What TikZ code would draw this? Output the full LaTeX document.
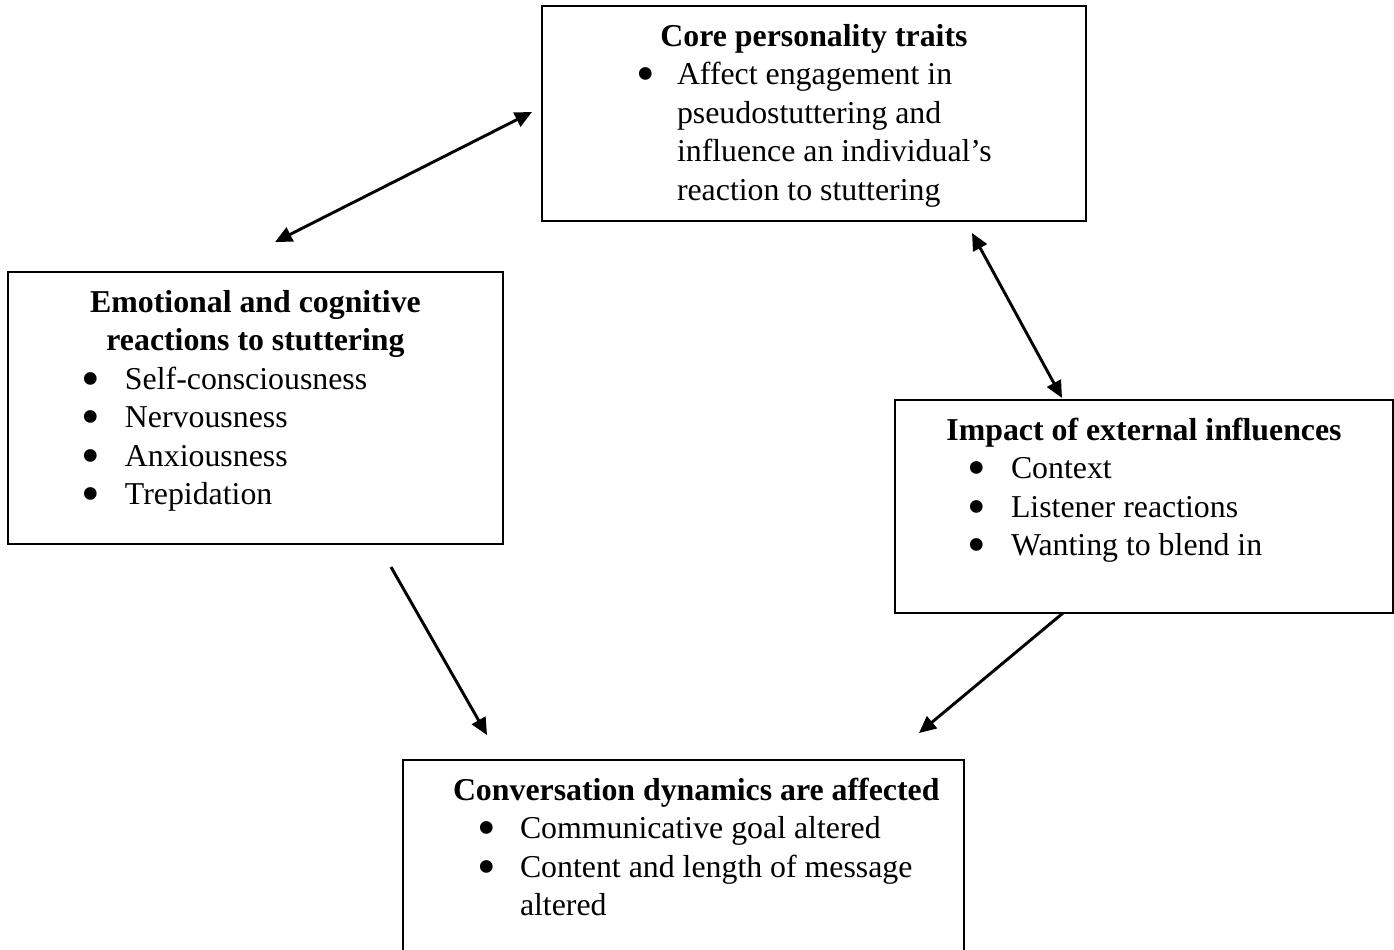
\documentclass[tikz,border=0pt]{standalone}
\usepackage{fontspec}
\setmainfont{Liberation Serif}
\usetikzlibrary{arrows.meta}
\newlength\px
\setlength\px{0.377pt}
\setlength\parskip{0pt}
% box content: width, height, text
\newcommand\panelbox[3]{\parbox[t][#2\px][t]{#1\px}{#3}}
\newcommand\ptitle[1]{\noindent\makebox[\linewidth]{\rule{0pt}{40\px}\bfseries #1}}
\newcommand\ptitlenext[1]{\par\noindent\makebox[\linewidth]{\bfseries #1}}
\newcommand\bigdot{{\fontsize{20}{14}\selectfont\raisebox{-2.6pt}{\textbullet}}}
% bullet line: bullet offset, text offset, text
\newcommand\bitem[3]{\par\noindent\hspace*{#1\px}\makebox[\dimexpr#2\px-#1\px\relax][l]{\bigdot}#3}
\newcommand\bcont[2]{\par\noindent\hspace*{#1\px}#2}
\begin{document}
\begin{tikzpicture}[x=0.377pt, y=-0.377pt,
    panel/.style={draw, line width=0.75pt, anchor=north west, inner sep=0pt,
      font=\fontsize{12}{14.55}\selectfont},
    link/.style={line width=1.1pt, -{Triangle[length=6.4pt,width=5.8pt]}},
    twoway/.style={line width=1.1pt, {Triangle[length=6.4pt,width=5.8pt]}-{Triangle[length=6.4pt,width=5.8pt]}},
    ]
    \useasboundingbox (0,0) rectangle (1394,949);
    \clip (0,0) rectangle (1394,949);

    % the four boxes
    \node[panel] (core) at (541,5) {\panelbox{544}{215}{%
        \ptitle{Core personality traits}
        \bitem{94}{135}{Affect engagement in}
        \bcont{135}{pseudostuttering and}
        \bcont{135}{influence an individual’s}
        \bcont{135}{reaction to stuttering}}};
    \node[panel] (emotion) at (7,271) {\panelbox{495}{272}{%
        \ptitle{Emotional and cognitive}
        \ptitlenext{reactions to stuttering}
        \bitem{74}{117}{Self-consciousness}
        \bitem{74}{117}{Nervousness}
        \bitem{74}{117}{Anxiousness}
        \bitem{74}{117}{Trepidation}}};
    \node[panel] (impact) at (894,399) {\panelbox{498}{213}{%
        \ptitle{Impact of external influences}
        \bitem{72}{116}{Context}
        \bitem{72}{116}{Listener reactions}
        \bitem{72}{116}{Wanting to blend in}}};
    \node[panel] (convo) at (402,759) {\panelbox{561}{205}{%
        \noindent\hspace*{50\px}\rule{0pt}{40\px}\textbf{Conversation dynamics are affected}
        \bitem{74}{117}{Communicative goal altered}
        \bitem{74}{117}{Content and length of message}
        \bcont{117}{altered}}};

    % free arrow ends
    \coordinate (core-w) at (532,112);
    \coordinate (emotion-n) at (275,242);
    \coordinate (core-s) at (972,233);
    \coordinate (impact-n) at (1062,398);
    \coordinate (emotion-s) at (391,567);
    \coordinate (convo-nw) at (487,735);
    \coordinate (impact-s) at (1063,613);
    \coordinate (convo-ne) at (919,733);

    \draw[twoway] (emotion-n) -- (core-w);
    \draw[twoway] (core-s) -- (impact-n);
    \draw[link] (emotion-s) -- (convo-nw);
    \draw[link] (impact-s) -- (convo-ne);
\end{tikzpicture}
\end{document}
